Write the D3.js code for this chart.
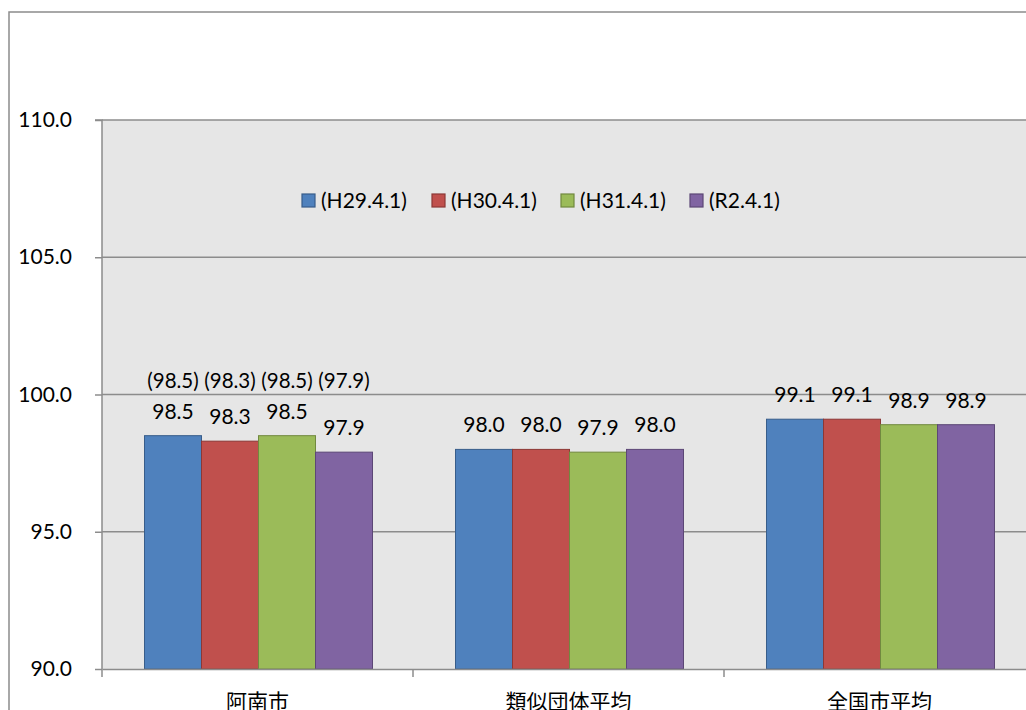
<!DOCTYPE html>
<html><head><meta charset="utf-8">
<script src="https://cdn.jsdelivr.net/npm/d3@7"></script>
<style>body{margin:0;background:#fff;overflow:hidden}svg{display:block}</style>
</head><body>
<script>
const categories = ["阿南市", "類似団体平均", "全国市平均"];
const seriesNames = ["(H29.4.1)", "(H30.4.1)", "(H31.4.1)", "(R2.4.1)"];
const h29 = [98.5, 98.0, 99.1];
const h30 = [98.3, 98.0, 99.1];
const h31 = [98.5, 97.9, 98.9];
const r2  = [97.9, 98.0, 98.9];
const extraLabels = ["(98.5)", "(98.3)", "(98.5)", "(97.9)"]; // 阿南市 only
const yTicks = [90, 95, 100, 105, 110];
const colors = ["#4f81bd", "#c0504d", "#9bbb59", "#8064a2"];
const strokes = ["#385d8a", "#8c3836", "#71893f", "#5c4776"];

(function () {
const series = [h29, h30, h31, r2];
const W = 1026, H = 710;
const svg = d3.select("body").append("svg").attr("width", W).attr("height", H);
const font = "Lato, 'Noto Sans CJK JP', sans-serif";

svg.append("rect").attr("x", 9).attr("y", 12).attr("width", 1040).attr("height", 720)
  .attr("fill", "#fff").attr("stroke", "#8c8c8c").attr("stroke-width", 1.5);

const pL = 102, pT = 120, pB = 669, pR = 1035;
const x0 = d3.scaleBand().domain(categories).range([pL, pR]).paddingInner(0).paddingOuter(0);
const x1 = d3.scaleBand().domain(d3.range(4)).range([42.5, x0.bandwidth() - 40.5]);
const y = d3.scaleLinear().domain([90, 110]).range([pB, pT]);

svg.append("rect").attr("x", pL).attr("y", pT).attr("width", pR - pL).attr("height", pB - pT)
  .attr("fill", "#e6e6e6");

svg.append("g").selectAll("line").data(yTicks.filter(d => d > 90)).join("line")
  .attr("x1", pL).attr("x2", pR).attr("y1", d => y(d)).attr("y2", d => y(d))
  .attr("stroke", "#8c8c8c").attr("stroke-width", 1.5);

const groups = svg.append("g").selectAll("g").data(categories).join("g")
  .attr("transform", d => `translate(${x0(d)},0)`);
groups.selectAll("rect").data((c, ci) => series.map((s, si) => ({si, v: s[ci]}))).join("rect")
  .attr("x", d => x1(d.si)).attr("width", x1.bandwidth())
  .attr("y", d => y(d.v)).attr("height", d => y(90) - y(d.v))
  .attr("fill", d => colors[d.si]).attr("stroke", d => strokes[d.si]).attr("stroke-width", 1);
groups.selectAll("text.val").data((c, ci) => series.map((s, si) => ({si, v: s[ci]}))).join("text")
  .attr("class", "val")
  .attr("x", d => x1(d.si) + x1.bandwidth() / 2).attr("y", d => y(d.v) - 17)
  .attr("text-anchor", "middle").attr("font-family", font).attr("font-size", 21).attr("fill", "#000")
  .text(d => d.v.toFixed(1));

svg.append("g").selectAll("text").data(extraLabels).join("text")
  .attr("x", (d, i) => x0(categories[0]) + x1(i) + x1.bandwidth() / 2).attr("y", y(100) - 7)
  .attr("text-anchor", "middle").attr("font-family", font).attr("font-size", 20.5).attr("fill", "#000")
  .text(d => d);

const yAxis = d3.axisLeft(y).tickValues(yTicks).tickFormat(d3.format(".1f")).tickSize(7).tickPadding(23);
const ya = svg.append("g").attr("transform", `translate(${pL},0)`).call(yAxis);
ya.select(".domain").attr("stroke", "#8c8c8c").attr("stroke-width", 1.5).attr("d", `M-7,${pT}H0V${pB}`);
ya.selectAll(".tick line").attr("stroke", "#8c8c8c").attr("stroke-width", 1.5);
ya.selectAll(".tick text").attr("font-family", font).attr("font-size", 21).attr("fill", "#000");

const xAxis = d3.axisBottom(x0).tickSize(0).tickPadding(21);
const xa = svg.append("g").attr("transform", `translate(0,${pB})`).call(xAxis);
xa.select(".domain").attr("stroke", "#8c8c8c").attr("stroke-width", 1.5);
xa.selectAll(".tick text").attr("font-family", "'Noto Sans CJK JP', sans-serif").attr("font-size", 21).attr("fill", "#000").attr("dy", "0.9em");
svg.append("g").selectAll("line").data(categories).join("line")
  .attr("x1", d => x0(d)).attr("x2", d => x0(d)).attr("y1", pB).attr("y2", pB + 8)
  .attr("stroke", "#8c8c8c").attr("stroke-width", 1.5);

const legendX = [302, 432, 561, 690];
const lg = svg.append("g").selectAll("g").data(seriesNames).join("g")
  .attr("transform", (d, i) => `translate(${legendX[i]},194)`);
lg.append("rect").attr("width", 13).attr("height", 13)
  .attr("fill", (d, i) => colors[i]).attr("stroke", (d, i) => strokes[i]).attr("stroke-width", 1.2);
lg.append("text").attr("x", 19).attr("y", 7).attr("dy", "0.35em")
  .attr("font-family", font).attr("font-size", 21).attr("fill", "#000").text(d => d);
})();
</script>
</body></html>
